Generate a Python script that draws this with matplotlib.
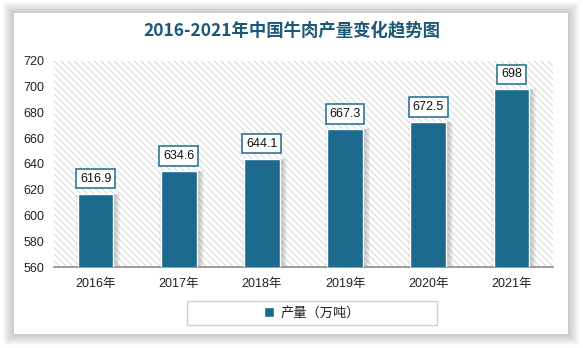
import matplotlib
matplotlib.use("Agg")
import matplotlib.pyplot as plt
from matplotlib.patches import Rectangle
import matplotlib.transforms as mtransforms

plt.rcParams['font.family'] = ['Liberation Sans', 'Noto Sans CJK SC', 'DejaVu Sans']
plt.rcParams['hatch.linewidth'] = 0.6
plt.rcParams['hatch.color'] = '#cfcfcf'

# Data
years = ['2016年', '2017年', '2018年', '2019年', '2020年', '2021年']
output = [616.9, 634.6, 644.1, 667.3, 672.5, 698]
series_name = '产量（万吨）'
title = '2016-2021年中国牛肉产量变化趋势图'
y_ticks = [560, 580, 600, 620, 640, 660, 680, 700, 720]

W, H = 583, 348
BAR = '#1c6b8e'
TITLE_C = '#1b5877'

fig = plt.figure(figsize=(W / 100, H / 100), dpi=100)
fig.patch.set_facecolor('white')


def fx(x):
    return x / W


def fy(y):
    return 1 - y / H


# Card with soft shadow
cl, ct, cr, cb = 14, 13, 568, 334
for i in range(11, 0, -1):
    fig.patches.append(Rectangle((fx(cl - i), fy(cb + i)), fx(cr - cl + 2 * i),
                                 (cb - ct + 2 * i) / H, transform=fig.transFigure,
                                 fc='#7a7a7a', ec='none', alpha=0.04, zorder=0))
fig.patches.append(Rectangle((fx(cl), fy(cb)), fx(cr - cl), (cb - ct) / H,
                             transform=fig.transFigure, fc='white', ec='none', zorder=1))

# Plot area
al, at, ar, ab = 54, 61, 553, 267
ax = fig.add_axes([fx(al), fy(ab), fx(ar - al), (ab - at) / H], zorder=2)
ax.set_facecolor('white')
ax.add_patch(Rectangle((0, 0), 1, 1, transform=ax.transAxes, fc='white',
                       ec='#cfcfcf', lw=0, hatch='\\' * 5, zorder=0))

x = list(range(len(years)))
bars = ax.bar(x, output, width=0.43, color=BAR, edgecolor='white', linewidth=1.0,
              zorder=3, label=series_name)

# Soft drop shadow behind each bar
for b in bars:
    for k in range(1, 8):
        tr = mtransforms.offset_copy(ax.transData, fig=fig, x=k * 0.72, y=0, units='points')
        ax.add_patch(Rectangle((b.get_x(), b.get_y()), b.get_width(), b.get_height(),
                               transform=tr, fc='#666666', ec='none',
                               alpha=0.07, zorder=2))
    trl = mtransforms.offset_copy(ax.transData, fig=fig, x=-1.5, y=0, units='points')
    ax.add_patch(Rectangle((b.get_x(), b.get_y()), b.get_width(), b.get_height(),
                           transform=trl, fc='#666666', ec='none', alpha=0.06, zorder=2))

# Value labels
for xi, v in zip(x, output):
    ax.annotate(f'{v:g}', (xi, v), xytext=(0, 6.5), textcoords='offset points',
                ha='center', va='bottom', fontsize=9, color='#111111', zorder=5,
                bbox=dict(boxstyle='square,pad=0.3', fc='white', ec=BAR, lw=1.1))

ax.set_xlim(-0.5, len(years) - 0.5)
ax.set_ylim(560, 720)
ax.set_yticks(y_ticks)
ax.set_xticks(x)
ax.set_xticklabels(years)
ax.tick_params(axis='y', length=0, pad=7, labelsize=9, labelcolor='#222222')
ax.tick_params(axis='x', length=0, pad=8, labelsize=9, labelcolor='#222222')
for s in ['left', 'right', 'top']:
    ax.spines[s].set_visible(False)
ax.spines['bottom'].set_color('#8c8c8c')
ax.spines['bottom'].set_linewidth(1.2)

# Title
fig.text(fx(292), fy(30), title, ha='center', va='center', fontsize=12.5,
         fontweight='bold', color=TITLE_C, family=['Noto Sans CJK SC'], zorder=3)

# Legend
ll, lt, lr, lb = 187, 301, 437, 325
fig.patches.append(Rectangle((fx(ll), fy(lb)), fx(lr - ll), (lb - lt) / H,
                             transform=fig.transFigure, fc='white', ec='#d0d0d0',
                             lw=1.0, zorder=2))
leg = fig.legend(handles=[bars], labels=[series_name], loc='center',
                 bbox_to_anchor=(fx((ll + lr) / 2), fy((lt + lb) / 2)),
                 frameon=False, fontsize=9.5, handlelength=0.8, handleheight=0.8,
                 handletextpad=0.5)
for t in leg.get_texts():
    t.set_color('#222222')

fig.savefig('out.png', dpi=100, facecolor='white')
